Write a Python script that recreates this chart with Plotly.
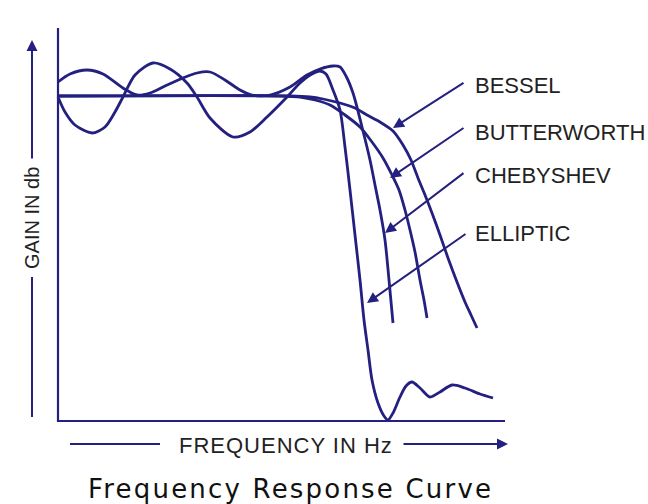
import plotly.graph_objects as go

# ---- data (frequency units from the vertical axis, gain units up from the baseline)
bessel_f = [0, 232, 252, 265, 282, 297, 309, 322, 335, 345, 353, 360, 367, 374, 382, 390, 399, 407, 413, 419]
bessel_g = [325, 325, 324, 322, 318, 313, 306, 299, 290, 276, 261, 243, 226, 208, 186, 163, 139, 119, 106, 93]

butter_f = [0, 222, 242, 257, 272, 287, 302, 314, 325, 334, 341, 347, 352, 357, 362, 366, 369]
butter_g = [325, 325, 324, 321, 316, 306, 294, 279, 263, 246, 231, 211, 191, 169, 141, 121, 103]

cheby_f = [0, 12, 29, 45, 65, 79, 92, 107, 125, 139, 152, 167, 182, 194, 212, 232, 249, 262, 275, 282,
           288, 295, 304, 312, 317, 322, 327, 331, 335]
cheby_g = [339, 347, 351, 347, 333, 326, 328, 335, 343, 348, 349, 341, 331, 326, 326, 334, 346, 352, 355, 354,
           345, 328, 294, 261, 236, 211, 181, 141, 98]

ellip_f = [0, 7, 17, 34, 47, 57, 65, 77, 95, 112, 129, 139, 152, 175, 192, 209, 229, 242, 254, 262, 268,
           275, 282, 287, 292, 297, 302, 306, 310, 314, 320, 326, 330, 335, 342, 348, 354, 362, 372, 382,
           394, 407, 422, 435]
ellip_g = [324, 309, 296, 288, 294, 309, 324, 346, 358, 352, 338, 324, 303, 284, 289, 304, 324, 338, 347, 350, 347,
           331, 311, 274, 231, 186, 141, 101, 71, 41, 18, 5, 1, 8, 24, 35, 39, 33, 24, 29,
           36, 33, 27, 23]

labels = ["BESSEL", "BUTTERWORTH", "CHEBYSHEV", "ELLIPTIC"]
label_g = [336, 289, 246, 188]
arrow_tail = [(407, 339), (407, 294), (407, 249), (409, 188)]
arrow_tip = [(335, 293), (332, 243), (327, 188), (309, 118)]

NAVY = "#24207f"
TEXT = "#222222"

fig = go.Figure()
for f, g in [(bessel_f, bessel_g), (butter_f, butter_g), (cheby_f, cheby_g), (ellip_f, ellip_g)]:
    fig.add_trace(go.Scatter(x=f, y=g, mode="lines",
                             line=dict(color=NAVY, width=2.8, shape="spline", smoothing=0.8),
                             hoverinfo="skip"))

shapes = [
    dict(type="line", x0=0, y0=-1, x1=0, y1=393, line=dict(color=NAVY, width=2.2)),
    dict(type="line", x0=-1, y0=0, x1=447, y1=0, line=dict(color=NAVY, width=2.2)),
    dict(type="line", x0=-26, y0=4, x1=-26, y1=144, line=dict(color=NAVY, width=2)),
    dict(type="line", x0=12, y0=-23, x1=102, y1=-23, line=dict(color=NAVY, width=2)),
]

ann = []
for lab, y in zip(labels, label_g):
    ann.append(dict(x=415, y=y, xref="x", yref="y", text=lab, showarrow=False,
                    xanchor="left", yanchor="middle",
                    font=dict(family="Liberation Sans, Arial", size=22, color=TEXT)))
for (tx, ty), (hx, hy) in zip(arrow_tail, arrow_tip):
    ann.append(dict(x=hx, y=hy, ax=tx, ay=ty, xref="x", yref="y", axref="x", ayref="y",
                    text="", showarrow=True, arrowhead=2, arrowsize=1.1, arrowwidth=2,
                    arrowcolor=NAVY, standoff=0, startstandoff=0))
# axis-name arrows
ann.append(dict(x=-26, y=381, ax=-26, ay=261, xref="x", yref="y", axref="x", ayref="y",
                text="", showarrow=True, arrowhead=2, arrowsize=1.1, arrowwidth=2,
                arrowcolor=NAVY, standoff=0))
ann.append(dict(x=450, y=-23, ax=344, ay=-23, xref="x", yref="y", axref="x", ayref="y",
                text="", showarrow=True, arrowhead=2, arrowsize=1.1, arrowwidth=2,
                arrowcolor=NAVY, standoff=0))
ann.append(dict(x=-26, y=203, xref="x", yref="y", text="GAIN IN db", showarrow=False,
                textangle=-90, xanchor="center", yanchor="middle",
                font=dict(family="Liberation Sans, Arial", size=20, color=TEXT)))
ann.append(dict(x=228, y=-24, xref="x", yref="y",
                text='<span style="letter-spacing:1px">FREQUENCY IN Hz</span>', showarrow=False,
                xanchor="center", yanchor="middle",
                font=dict(family="Liberation Sans, Arial", size=22, color=TEXT)))
ann.append(dict(x=232, y=-68, xref="x", yref="y",
                text='<span style="letter-spacing:2.2px">Frequency Response Curve</span>',
                showarrow=False, xanchor="center", yanchor="middle",
                font=dict(family="DejaVu Sans", size=26, color="#111111")))

fig.update_layout(
    width=648, height=504, margin=dict(l=0, r=0, t=0, b=0),
    paper_bgcolor="white", plot_bgcolor="white", showlegend=False,
    shapes=shapes, annotations=ann,
    xaxis=dict(range=[-58, 590], visible=False, fixedrange=True),
    yaxis=dict(range=[-83, 421], visible=False, fixedrange=True),
)
fig.write_html("out.html", config={"displayModeBar": False},
               post_script="document.body.style.margin='0';document.body.style.overflow='hidden';")
